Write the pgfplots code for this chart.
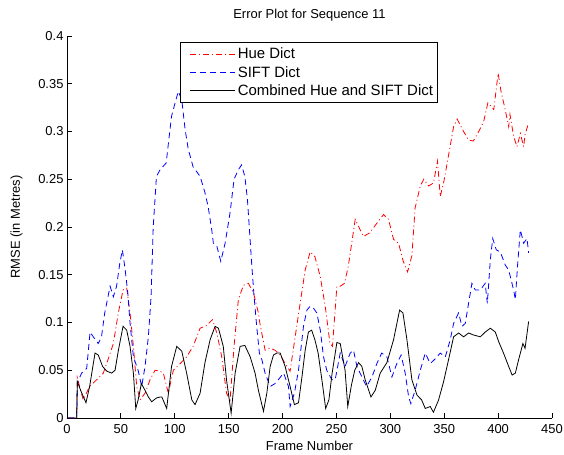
\documentclass[border=0pt]{standalone}
\usepackage{pgfplots}
\pgfplotsset{compat=1.18}
\usepackage{fontspec}
\setmainfont{Liberation Sans}
\begin{document}
\begin{tikzpicture}[font=\fontsize{13}{15}\selectfont]
\path[use as bounding box] (-67bp,-37bp) rectangle (497bp,418bp);
\begin{axis}[
  at={(0,0)}, anchor=south west,
  scale only axis, width=485bp, height=382bp,
  xmin=0, xmax=450, ymin=0, ymax=0.4,
  axis x line*=bottom, axis y line*=left,
  axis line style={line width=0.8bp},
  xtick={0,50,100,150,200,250,300,350,400,450},
  ytick={0,0.05,0.1,0.15,0.2,0.25,0.3,0.35,0.4},
  yticklabels={0,0.05,0.1,0.15,0.2,0.25,0.3,0.35,0.4},
  tick align=inside, major tick length=5bp,
  tick style={line width=0.8bp, black},
  xticklabel style={yshift=-3bp},
  /pgf/number format/assume math mode=true,
  title={Error Plot for Sequence 11},
  title style={yshift=5bp},
  xlabel={Frame Number}, ylabel={RMSE (in Metres)},
  xlabel style={yshift=-1bp},
  ylabel style={yshift=9bp},
  legend cell align=left,
  legend style={at={(0.233,0.984)}, anchor=north west, draw=black, line width=0.8bp,
    font=\fontsize{15}{16}\selectfont, inner xsep=2bp, inner ysep=3.5bp, row sep=2bp},
  legend image code/.code={\draw[#1,draw=none] (0bp,0bp) -- (8bp,0bp); \draw[#1] (8bp,0bp) -- (53bp,0bp);},
]
\addplot[red, line width=0.8bp, dash pattern=on 6bp off 3bp on 1bp off 3bp] coordinates {
(1,0) (9,0) (9.6,0.042) (15,0.019) (21,0.033) (27.5,0.040) (33.7,0.047) (38,0.061) (43,0.078) (47.6,0.110) (52,0.134) (55.4,0.136) (58.5,0.110) (61.6,0.075) (64.7,0.033) (67.8,0.019) (72.4,0.026) (77,0.040) (81.7,0.050) (86.4,0.049) (89.4,0.047) (94,0.026) (98.7,0.050) (105,0.057) (111,0.064) (117,0.075) (123.5,0.094) (129.7,0.097) (135,0.103) (139,0.089) (143.6,0.064) (148,0.026) (151.3,0.019) (155,0.075) (159,0.124) (163.7,0.139) (168.3,0.141) (173,0.131) (177.6,0.110) (179,0.099) (183.8,0.071) (188.5,0.073) (193,0.071) (197.8,0.066) (202.4,0.057) (207,0.049) (211.7,0.085) (216.3,0.120) (221,0.155) (225.6,0.174) (230,0.169) (235,0.148) (239.6,0.117) (244,0.078) (246.3,0.075) (250.4,0.138) (253.5,0.138) (257.5,0.141) (261,0.159) (266,0.197) (267.4,0.208) (275,0.190) (281,0.194) (287.5,0.204) (293.7,0.213) (298.3,0.208) (303,0.187) (307.6,0.183) (312,0.164) (316,0.153) (320,0.170) (323,0.220) (327.8,0.243) (331,0.250) (335.5,0.243) (340,0.246) (343.8,0.269) (346.3,0.232) (349.4,0.246) (354,0.275) (358.7,0.305) (362,0.313) (368,0.300) (372.6,0.291) (377,0.290) (382,0.300) (386.5,0.310) (390.5,0.330) (396,0.323) (400,0.361) (403,0.340) (406,0.326) (409.8,0.305) (411,0.318) (414.4,0.295) (417.5,0.284) (420.6,0.298) (423.7,0.284) (425,0.297) (428.3,0.309)
};
\addlegendentry{Hue Dict}
\addplot[blue, line width=0.8bp, dash pattern=on 6bp off 4bp] coordinates {
(1,0) (9,0) (9.6,0.037) (13.6,0.047) (18.3,0.052) (21.4,0.090) (24.4,0.085) (29,0.078) (32,0.085) (35,0.110) (40,0.138) (43,0.127) (46,0.138) (49,0.162) (51.4,0.176) (54,0.155) (56.4,0.131) (58.5,0.099) (61.6,0.064) (66,0.050) (69.3,0.033) (72.4,0.054) (75.5,0.085) (78,0.127) (80,0.200) (83,0.253) (86.4,0.260) (92,0.267) (97,0.316) (100.3,0.330) (103.3,0.342) (106.5,0.333) (109.6,0.302) (112.6,0.281) (117,0.263) (123.5,0.253) (128,0.236) (131,0.221) (134.3,0.197) (135.8,0.183) (139,0.180) (142.7,0.164) (146.7,0.183) (151.3,0.215) (155,0.250) (159,0.260) (162,0.265) (165,0.253) (167.4,0.229) (169.3,0.197) (171.5,0.159) (173.6,0.127) (176,0.096) (178.5,0.068) (180.8,0.061) (183.8,0.047) (188.5,0.033) (193,0.036) (196,0.040) (201,0.047) (205.5,0.033) (207,0.012) (211,0.026) (214.8,0.050) (219.4,0.096) (222.6,0.113) (225.6,0.117) (228.7,0.115) (231.8,0.110) (235,0.092) (238,0.064) (241,0.050) (245.8,0.040) (248.8,0.040) (253.5,0.068) (258,0.054) (262.8,0.068) (265.8,0.071) (269,0.054) (273.6,0.043) (278,0.033) (283,0.043) (287.5,0.057) (292,0.068) (296.8,0.064) (301.5,0.043) (306,0.057) (310,0.066) (313.8,0.047) (317,0.022) (319,0.015) (323,0.029) (327.8,0.050) (332.4,0.068) (337,0.057) (341.7,0.062) (346.3,0.068) (351,0.064) (355.6,0.082) (358.7,0.099) (363.3,0.110) (366.5,0.096) (369.5,0.099) (372.6,0.120) (375.7,0.141) (378.8,0.134) (383.5,0.134) (388,0.141) (390,0.120) (392.8,0.166) (395,0.188) (398.3,0.176) (402,0.174) (406.7,0.160) (409.8,0.155) (412,0.145) (414.4,0.134) (416,0.124) (418,0.159) (420.6,0.197) (423.7,0.183) (426.8,0.188) (428.3,0.173)
};
\addlegendentry{SIFT Dict}
\addplot[black, line width=0.8bp] coordinates {
(1,0) (9,0) (9.6,0.038) (13,0.028) (17.6,0.016) (21,0.033) (26,0.068) (29,0.066) (33,0.054) (37,0.049) (41.5,0.047) (44.6,0.050) (47.7,0.071) (52,0.096) (55.4,0.092) (58.5,0.075) (61.6,0.047) (63.8,0.010) (66,0.019) (69,0.036) (72.4,0.029) (75.5,0.022) (78.6,0.017) (83,0.021) (86.4,0.022) (88,0.022) (92.5,0.010) (97,0.054) (101.8,0.075) (106.5,0.070) (111,0.047) (115.8,0.019) (118.8,0.014) (123.5,0.026) (128,0.058) (132.8,0.082) (137.4,0.096) (140.5,0.094) (145,0.075) (148,0.040) (152.3,0.005) (156,0.047) (160.6,0.075) (165,0.076) (170,0.064) (174.5,0.047) (177.6,0.029) (182.3,0.007) (185.4,0.026) (188.5,0.054) (191.6,0.066) (194.7,0.068) (197.8,0.068) (202.4,0.054) (207,0.033) (211,0.014) (214.8,0.016) (218,0.043) (221,0.071) (224,0.090) (227,0.092) (230,0.082) (233,0.068) (236.5,0.040) (240,0.010) (243,0.019) (246,0.047) (250.4,0.079) (253.5,0.078) (258,0.050) (260.5,0.012) (264,0.035) (267,0.050) (270.5,0.058) (273.6,0.054) (276.7,0.040) (282,0.022) (286,0.029) (290.6,0.047) (296.8,0.058) (303,0.082) (308.6,0.113) (311.7,0.110) (315.4,0.082) (320,0.040) (324.7,0.024) (329,0.019) (332.4,0.010) (337,0.012) (340,0.006) (344.8,0.019) (349.4,0.038) (354,0.061) (358.7,0.085) (363.3,0.089) (368,0.085) (372.6,0.089) (377,0.087) (383.5,0.085) (388,0.090) (392.8,0.094) (397.4,0.090) (400.5,0.080) (405,0.068) (409.8,0.054) (413,0.045) (416,0.047) (419,0.061) (423,0.078) (425,0.073) (428.3,0.101)
};
\addlegendentry{Combined Hue and SIFT Dict}
\end{axis}
\end{tikzpicture}
\end{document}
